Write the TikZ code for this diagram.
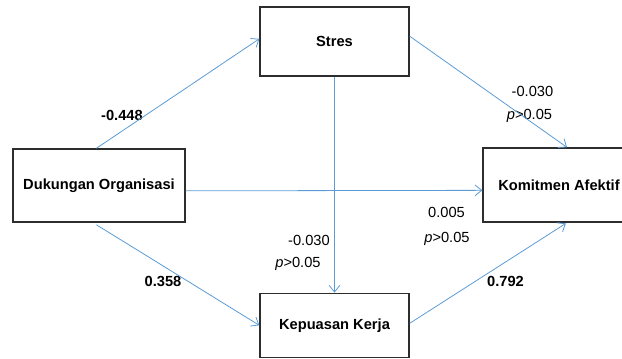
\documentclass[tikz,border=0pt]{standalone}
\usepackage{fontspec}
\setmainfont{Liberation Sans}
\usetikzlibrary{arrows.meta,positioning}
\definecolor{linkblue}{RGB}{91,155,213}
\definecolor{boxgray}{RGB}{45,45,45}
\newcommand{\diagfont}{\fontsize{11}{13}\selectfont}
\newcommand{\boxwidth}{111.75pt}
\newcommand{\vseparation}{162pt}
\tikzset{
    stage/.style = { draw=boxgray, line width=1pt, rectangle, align=center,
        font=\diagfont\bfseries,
        minimum width = \boxwidth,
        minimum height = 51.75pt
    },
    coef/.style = { anchor=base, inner sep=0pt,
        font=\diagfont
    },
    bcoef/.style = { coef, font=\diagfont\bfseries },
    arrow/.style = { draw=linkblue, line width=0.6pt,
        -{Straight Barb[length=5pt,width=8pt]}
    }
}

\begin{document}
\begin{tikzpicture}[x=0.75pt, y=-0.75pt]
        \useasboundingbox (0,0) rectangle (622,358);

        % boxes...
        \node[stage] (stres) at (334.5,41.5) {Stres};
        \node[stage, minimum height=48pt, below=\vseparation of stres] (puas) {Kepuasan Kerja};
        \node[stage, minimum width=129pt, minimum height=54.75pt] (org) at (99,185.5) {Dukungan Organisasi};
        \node[stage, minimum width=114pt, minimum height=55.5pt] (afek) at (559,185) {Komitmen Afektif};

        % coefficients...
        \node[bcoef] (c1) at (122,120.5) {-0.448};
        \node[coef] (c2a) at (532.5,96) {-0.030};
        \node[coef] (c2b) at (529.5,119) {\textit{p}>0.05};
        \node[coef] (c3a) at (309,245) {-0.030};
        \node[coef] (c3b) at (298,267) {\textit{p}>0.05};
        \node[coef] (c4a) at (446.5,217) {0.005};
        \node[coef] (c4b) at (447,242) {\textit{p}>0.05};
        \node[bcoef] (c5) at (163,286) {0.358};
        \node[bcoef] (c6) at (505.5,286) {0.792};

        % arrows...
        \draw[arrow] ([xshift=-2pt]org.north) -- ([yshift=2pt]stres.west);
        \draw[arrow] ([yshift=4pt]stres.east) -- ([xshift=6pt]afek.north);
        \draw[arrow] (stres.south) -- (puas.north);
        \draw[arrow] ([yshift=-4pt]org.east) -- ([yshift=-4pt]afek.west);
        \draw[arrow, shorten <= 3pt] ([xshift=-4.5pt]org.south) -- (puas.west);
        \draw[arrow, shorten >= 1pt] ([yshift=1.5pt]puas.east) -- ([xshift=6pt]afek.south);

    \end{tikzpicture}
\end{document}
